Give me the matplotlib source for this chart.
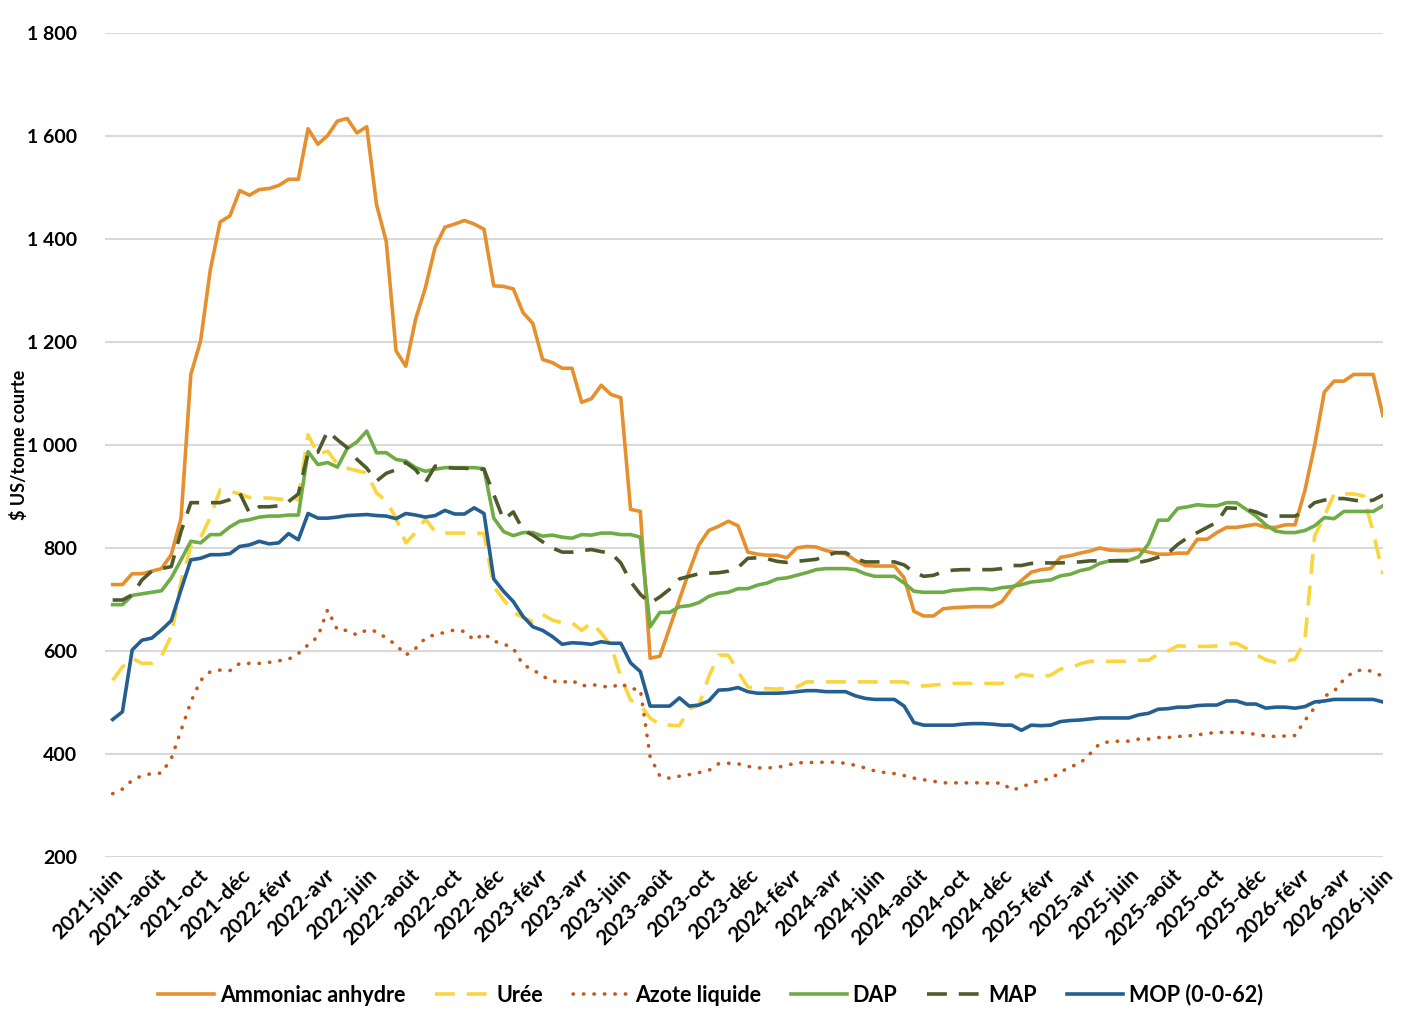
import matplotlib
matplotlib.use("Agg")
import matplotlib.pyplot as plt
import pandas as pd

# prix bi-hebdomadaires, juin 2021 -> juin 2026 ($ US / tonne courte)
ammoniac = [729, 729, 750, 750, 755, 760, 787, 858, 1137, 1202,
            1341, 1433, 1445, 1494, 1485, 1496, 1498, 1504, 1516, 1516,
            1614, 1584, 1601, 1629, 1634, 1606, 1618, 1467, 1395, 1183,
            1153, 1244, 1305, 1384, 1423, 1429, 1436, 1429, 1419, 1309,
            1308, 1303, 1257, 1236, 1166, 1160, 1149, 1149, 1083, 1090,
            1116, 1098, 1092, 875, 871, 586, 590, 645, 700, 755,
            806, 834, 842, 852, 843, 792, 788, 786, 786, 781,
            800, 803, 802, 795, 791, 789, 776, 766, 765, 765,
            765, 742, 677, 668, 668, 682, 684, 685, 686, 686,
            686, 696, 721, 737, 753, 758, 760, 782, 785, 790,
            794, 800, 796, 795, 795, 797, 792, 788, 788, 790,
            790, 817, 817, 830, 840, 840, 843, 846, 840, 840,
            845, 845, 911, 999, 1103, 1124, 1124, 1137, 1137, 1137,
            1057]
uree = [543, 569, 586, 576, 576, 590, 630, 735, 803, 820,
        860, 913, 910, 905, 898, 897, 897, 895, 894, 894,
        1020, 982, 988, 963, 955, 950, 946, 907, 891, 858,
        810, 830, 856, 832, 829, 829, 829, 829, 828, 725,
        700, 675, 665, 657, 671, 660, 655, 655, 640, 655,
        635, 610, 550, 505, 495, 470, 457, 456, 455, 488,
        495, 550, 592, 592, 560, 530, 527, 527, 526, 528,
        530, 540, 540, 540, 540, 540, 540, 540, 540, 540,
        540, 540, 535, 532, 534, 535, 537, 537, 537, 537,
        537, 537, 545, 555, 552, 550, 553, 565, 567, 575,
        580, 580, 580, 580, 580, 582, 582, 594, 600, 610,
        609, 609, 609, 610, 614, 615, 605, 593, 583, 578,
        580, 584, 620, 823, 862, 905, 905, 905, 901, 830,
        749]
azote = [323, 332, 349, 358, 362, 363, 391, 446, 501, 543,
         560, 563, 562, 576, 576, 576, 578, 581, 584, 595,
         612, 628, 680, 641, 640, 631, 641, 638, 625, 612,
         592, 605, 625, 632, 636, 641, 638, 621, 634, 619,
         614, 605, 573, 564, 551, 542, 539, 543, 532, 535,
         532, 529, 537, 527, 525, 395, 357, 353, 357, 360,
         364, 368, 381, 382, 381, 376, 373, 373, 374, 378,
         383, 383, 384, 384, 384, 382, 378, 373, 367, 364,
         362, 358, 353, 350, 347, 344, 344, 344, 344, 344,
         343, 344, 330, 335, 344, 349, 352, 365, 375, 382,
         400, 420, 424, 425, 425, 429, 429, 432, 432, 434,
         435, 437, 440, 442, 442, 442, 441, 438, 435, 434,
         435, 436, 465, 490, 512, 522, 545, 560, 564, 560,
         550]
dap = [690, 690, 708, 711, 714, 717, 742, 777, 813, 810,
       826, 826, 841, 852, 855, 860, 862, 862, 864, 864,
       987, 962, 966, 957, 993, 1006, 1027, 985, 985, 972,
       969, 956, 949, 953, 956, 956, 956, 956, 954, 858,
       832, 824, 830, 830, 823, 825, 821, 819, 826, 825,
       829, 829, 826, 826, 821, 647, 675, 675, 686, 688,
       694, 706, 712, 714, 721, 721, 728, 732, 740, 742,
       747, 752, 758, 760, 760, 760, 758, 750, 745, 745,
       745, 732, 716, 714, 714, 714, 718, 719, 721, 721,
       719, 723, 725, 729, 734, 736, 738, 746, 749, 756,
       760, 770, 775, 776, 776, 783, 808, 854, 854, 877,
       880, 884, 882, 882, 888, 888, 875, 862, 845, 833,
       830, 830, 834, 843, 859, 857, 871, 871, 871, 871,
       882]
map_ = [699, 699, 709, 738, 755, 760, 764, 832, 888, 888,
        888, 888, 894, 907, 868, 880, 880, 882, 890, 905,
        985, 986, 1027, 1010, 995, 972, 955, 930, 945, 952,
        966, 952, 927, 959, 957, 955, 955, 953, 953, 904,
        855, 870, 835, 825, 812, 800, 792, 792, 795, 797,
        793, 790, 771, 735, 710, 693, 705, 720, 740, 745,
        750, 751, 752, 755, 762, 780, 781, 779, 774, 772,
        774, 776, 778, 785, 791, 791, 780, 773, 773, 773,
        773, 767, 753, 745, 747, 754, 757, 758, 758, 758,
        758, 760, 766, 766, 770, 771, 771, 771, 772, 773,
        775, 775, 775, 775, 775, 772, 776, 782, 790, 807,
        820, 830, 840, 850, 878, 877, 875, 870, 862, 862,
        862, 862, 872, 888, 893, 896, 896, 893, 890, 893,
        903]
mop = [467, 482, 602, 621, 625, 641, 659, 719, 777, 780,
       787, 787, 789, 803, 806, 813, 808, 810, 828, 816,
       867, 858, 858, 860, 863, 864, 865, 863, 862, 857,
       867, 864, 860, 863, 873, 866, 866, 878, 867, 740,
       716, 696, 667, 647, 640, 628, 613, 616, 615, 613,
       618, 615, 615, 577, 560, 493, 493, 493, 509, 493,
       495, 503, 524, 525, 529, 521, 518, 518, 518, 519,
       521, 523, 523, 521, 521, 521, 513, 508, 506, 506,
       506, 493, 461, 456, 456, 456, 456, 458, 459, 459,
       458, 456, 456, 446, 456, 455, 456, 463, 465, 466,
       468, 470, 470, 470, 470, 476, 479, 487, 488, 491,
       491, 494, 495, 495, 503, 503, 497, 497, 489, 491,
       491, 489, 492, 501, 503, 506, 506, 506, 506, 506,
       501]

noms = ["Ammoniac anhydre", "Urée", "Azote liquide", "DAP", "MAP", "MOP (0-0-62)"]
mois = ["janv", "févr", "mars", "avr", "mai", "juin",
        "juil", "août", "sept", "oct", "nov", "déc"]
y_ticks = [200, 400, 600, 800, 1000, 1200, 1400, 1600, 1800]

dates = pd.date_range("2021-06-01", "2026-06-01", periods=len(ammoniac))
ticks = pd.date_range("2021-06-01", "2026-06-01", freq="2MS")

plt.rcParams["font.family"] = ["Lato", "DejaVu Sans"]
plt.rcParams["font.weight"] = "bold"

fig = plt.figure(figsize=(14.21, 10.29), dpi=100)
ax = fig.add_axes([105 / 1421, 1 - 857 / 1029, 1278 / 1421, 824 / 1029])

lw = 2.6
styles = [
    dict(color="#E5902C", lw=lw, ls="-"),
    dict(color="#FAD53E", lw=lw, ls=(0, (5.5, 3.3))),
    dict(color="#C5581A", lw=lw, ls=(0, (0.1, 2.8)), dash_capstyle="round"),
    dict(color="#6FAC46", lw=lw, ls="-"),
    dict(color="#4E5A2C", lw=lw, ls=(0, (5.5, 3.3))),
    dict(color="#245F92", lw=lw, ls="-"),
]
series = [ammoniac, uree, azote, dap, map_, mop]
for nom, vals, st in zip(noms, series, styles):
    ax.plot(dates, vals, label=nom, solid_joinstyle="round", **st)

ax.set_ylim(200, 1800)
ax.set_xlim(dates[0] - pd.Timedelta(days=11), dates[-1])
ax.set_yticks(y_ticks)
ax.set_yticklabels([f"{v:,}".replace(",", " ") for v in y_ticks])
ax.set_xticks(ticks)
ax.set_xticklabels([f"{d.year}-{mois[d.month - 1]}" for d in ticks],
                   rotation=45, ha="right", rotation_mode="anchor")
ax.tick_params(axis="y", length=0, labelsize=14, pad=20)
ax.tick_params(axis="x", length=0, labelsize=15, pad=6)
ax.grid(axis="y", color="#D9D9D9", lw=1.5)
ax.set_axisbelow(True)
for s in ax.spines.values():
    s.set_visible(False)
ax.set_ylabel("$ US/tonne courte", fontsize=13, fontweight="bold")
ax.yaxis.set_label_coords(-0.060, 0.5)

fig.legend(loc="center", bbox_to_anchor=(0.5, 1 - 995 / 1029), ncol=6,
           frameon=False, fontsize=15.5, handlelength=2.6, columnspacing=1.4,
           handletextpad=0.25)

plt.savefig("out.png", dpi=100)
